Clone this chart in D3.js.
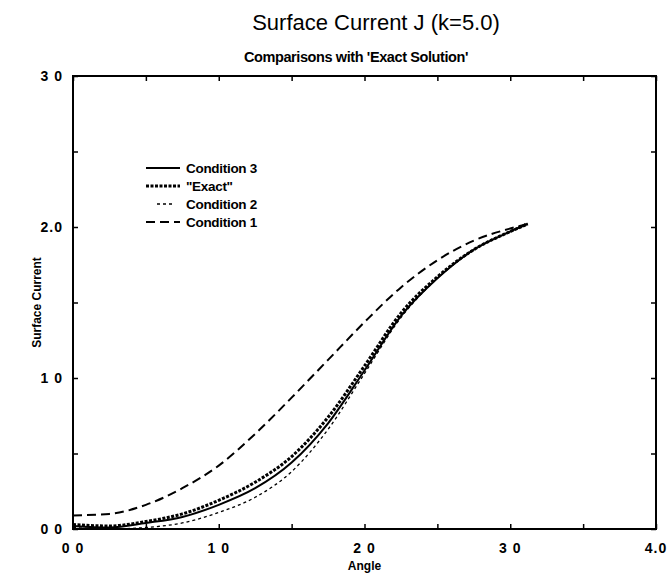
<!DOCTYPE html>
<html>
<head>
<meta charset="utf-8">
<script src="https://cdnjs.cloudflare.com/ajax/libs/d3/7.8.5/d3.min.js"></script>
<style>
  body { margin: 0; background: #fff; }
  svg { font-family: "Liberation Sans", Arial, Helvetica, sans-serif; }
</style>
</head>
<body>
<div id="chart"></div>
<script>
// angle values (x) shared by every series
var angles = [0, 0.25, 0.5, 0.75, 1.0, 1.25, 1.5, 1.75, 2.0, 2.25, 2.5, 2.75, 3.0, 3.12];

// surface current
var exact = [0.03, 0.02, 0.05, 0.10, 0.19, 0.31, 0.48, 0.74, 1.08, 1.43, 1.67, 1.85, 1.97, 2.02];
var cond3 = [0.02, 0.01, 0.04, 0.08, 0.16, 0.27, 0.44, 0.70, 1.05, 1.41, 1.66, 1.85, 1.97, 2.02];
var cond2 = [0.01, 0.00, 0.01, 0.04, 0.11, 0.21, 0.38, 0.66, 1.03, 1.40, 1.66, 1.85, 1.97, 2.03];
var cond1 = [0.09, 0.10, 0.16, 0.27, 0.42, 0.63, 0.87, 1.12, 1.37, 1.60, 1.78, 1.91, 1.99, 2.02];

var xTicks = [0, 1, 2, 3, 4];
var yTicks = [0, 1, 2, 3];
var xTickLabels = ["0 0", "1 0", "2 0", "3 0", "4.0"];
var yTickLabels = ["0 0", "1 0", "2.0", "3 0"];

var series = [
  { name: "Condition 3", values: cond3, dash: null, width: 2 },
  { name: "\"Exact\"", values: exact, dash: "3,1.5", width: 3 },
  { name: "Condition 2", values: cond2, dash: "3,3", width: 1.3 },
  { name: "Condition 1", values: cond1, dash: "9,5", width: 2 }
];

var W = 672, H = 580;
var margin = { top: 76, right: 16, bottom: 51, left: 73 };
var width = W - margin.left - margin.right;
var height = H - margin.top - margin.bottom;

var svg = d3.select("#chart").append("svg")
  .attr("width", W)
  .attr("height", H);

var g = svg.append("g")
  .attr("transform", "translate(" + margin.left + "," + margin.top + ")");

var x = d3.scaleLinear().domain([0, 4]).range([0, width]);
var y = d3.scaleLinear().domain([0, 3]).range([height, 0]);

// titles
svg.append("text")
  .attr("x", 376).attr("y", 30)
  .attr("text-anchor", "middle")
  .style("font-size", "22px")
  .text("Surface Current J (k=5.0)");

svg.append("text")
  .attr("x", 356).attr("y", 62)
  .attr("text-anchor", "middle")
  .style("font-size", "14.5px")
  .style("font-weight", "bold")
  .style("letter-spacing", "-0.4px")
  .text("Comparisons with 'Exact Solution'");

// minor/major ticks, pointing inward on all sides
var halfTicksX = d3.range(0, 4.01, 0.5);
var halfTicksY = d3.range(0, 3.01, 0.5);

g.append("g")
  .attr("transform", "translate(0," + height + ")")
  .call(d3.axisBottom(x).tickValues(halfTicksX).tickSize(-5).tickFormat(""))
  .call(function(a) { a.select(".domain").remove(); });
g.append("g")
  .call(d3.axisTop(x).tickValues(halfTicksX).tickSize(-5).tickFormat(""))
  .call(function(a) { a.select(".domain").remove(); });
g.append("g")
  .call(d3.axisLeft(y).tickValues(halfTicksY).tickSize(-5).tickFormat(""))
  .call(function(a) { a.select(".domain").remove(); });
g.append("g")
  .attr("transform", "translate(" + width + ",0)")
  .call(d3.axisRight(y).tickValues(halfTicksY).tickSize(-5).tickFormat(""))
  .call(function(a) { a.select(".domain").remove(); });
g.selectAll(".tick line").attr("stroke", "#000").attr("stroke-width", 1.5);

// frame
g.append("rect")
  .attr("width", width).attr("height", height)
  .attr("fill", "none")
  .attr("stroke", "#000")
  .attr("stroke-width", 2);

// tick labels
g.selectAll(".xlab")
  .data(xTicks)
  .enter().append("text")
  .attr("class", "xlab")
  .attr("x", function(d) { return x(d); })
  .attr("y", height + 24)
  .attr("text-anchor", "middle")
  .style("font-size", "14px")
  .style("font-weight", "bold")
  .style("letter-spacing", "1px")
  .text(function(d, i) { return xTickLabels[i]; });

g.selectAll(".ylab")
  .data(yTicks)
  .enter().append("text")
  .attr("class", "ylab")
  .attr("x", -10)
  .attr("y", function(d) { return y(d) + 5; })
  .attr("text-anchor", "end")
  .style("font-size", "14px")
  .style("font-weight", "bold")
  .style("letter-spacing", "1px")
  .text(function(d, i) { return yTickLabels[i]; });

// axis titles
svg.append("text")
  .attr("x", margin.left + x(2)).attr("y", 570)
  .attr("text-anchor", "middle")
  .style("font-size", "12px")
  .style("font-weight", "bold")
  .text("Angle");

svg.append("text")
  .attr("transform", "translate(41," + (margin.top + y(1.5)) + ") rotate(-90)")
  .attr("text-anchor", "middle")
  .style("font-size", "12px")
  .style("font-weight", "bold")
  .text("Surface Current");

// curves
var line = d3.line()
  .x(function(d) { return x(d[0]); })
  .y(function(d) { return y(d[1]); })
  .curve(d3.curveMonotoneX);

series.forEach(function(s) {
  g.append("path")
    .datum(angles.map(function(a, i) { return [a, s.values[i]]; }))
    .attr("fill", "none")
    .attr("stroke", "#000")
    .attr("stroke-width", s.width)
    .attr("stroke-dasharray", s.dash)
    .attr("d", line);
});

// legend
var legend = svg.append("g").attr("transform", "translate(146,168)");
series.forEach(function(s, i) {
  var row = legend.append("g").attr("transform", "translate(0," + (i * 18) + ")");
  row.append("line")
    .attr("x1", i == 2 ? 11 : 0).attr("x2", i == 2 ? 26 : 34)
    .attr("y1", 0).attr("y2", 0)
    .attr("stroke", "#000")
    .attr("stroke-width", s.width)
    .attr("stroke-dasharray", s.dash);
  row.append("text")
    .attr("x", 40).attr("y", 5)
    .style("font-size", "13.5px")
    .style("font-weight", "bold")
    .style("letter-spacing", "-0.3px")
    .text(s.name);
});
</script>
</body>
</html>
